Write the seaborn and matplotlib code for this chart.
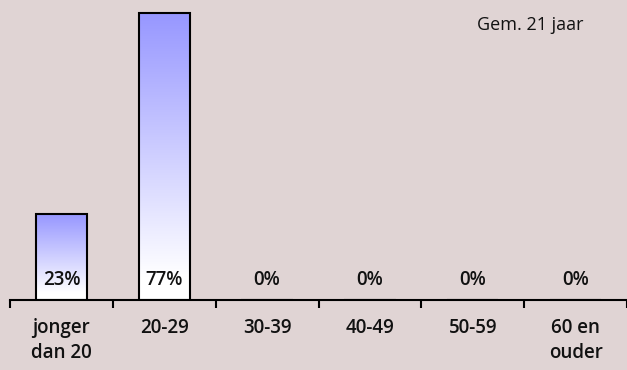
import numpy as np
import pandas as pd
import matplotlib
matplotlib.use("Agg")
import matplotlib.pyplot as plt
import seaborn as sns
from matplotlib.colors import LinearSegmentedColormap

categories = ["jonger\ndan 20", "20-29", "30-39", "40-49", "50-59", "60 en\nouder"]
values = [23, 77, 0, 0, 0, 0]
labels = ["23%", "77%", "0%", "0%", "0%", "0%"]
note = "Gem. 21 jaar"

bg = "#e0d4d4"
sns.set_style("white")
plt.rcParams["font.family"] = ["Open Sans", "DejaVu Sans"]

df = pd.DataFrame({"cat": categories, "val": values})

fig = plt.figure(figsize=(6.27, 3.70), dpi=100, facecolor=bg)
ax = fig.add_axes([10 / 627, 70 / 370, 617 / 627, 300 / 370])
ax.set_facecolor(bg)

sns.barplot(data=df, x="cat", y="val", ax=ax, width=0.5, color="white",
            edgecolor="black", linewidth=1.5, saturation=1)
ax.set_xlim(-0.5, 5.5)
ax.set_ylim(0, 80.5)

# gradient fill inside bars
cmap = LinearSegmentedColormap.from_list(
    "g", [(0, "white"), (0.08, "white"), (1, "#9797ff")])
grad = np.linspace(0, 1, 256).reshape(-1, 1)
for p in ax.patches:
    h = p.get_height()
    if h <= 0:
        continue
    x0 = p.get_x()
    w = p.get_width()
    im = ax.imshow(grad, cmap=cmap, aspect="auto", origin="lower",
                   extent=[x0, x0 + w, 0, h], zorder=p.get_zorder() + 0.1)
    im.set_clip_path(p)
    p.set_facecolor("none")
    p.set_zorder(p.get_zorder() + 0.2)

for i, lab in enumerate(labels):
    ax.text(i, 5.3, lab, ha="center", va="center", fontsize=13.5,
            fontweight="semibold", color="#111111", zorder=5)

ax.text(0.843, 0.917, note, transform=ax.transAxes, ha="center", va="center",
        fontsize=13, color="#111111")

for s in ["top", "right", "left"]:
    ax.spines[s].set_visible(False)
ax.spines["bottom"].set_linewidth(1.5)
ax.spines["bottom"].set_color("black")
ax.set_yticks([])
ax.set_xlabel("")
ax.set_ylabel("")
ax.set_xticks(range(len(categories)))
ax.set_xticklabels(categories, fontsize=13.5, fontweight="semibold", color="#111111",
                   linespacing=1.3, va="top")
ax.tick_params(axis="x", which="major", bottom=True, length=0, pad=13)
ax.set_xticks(np.arange(-0.5, 6.0, 1.0), minor=True)
ax.tick_params(axis="x", which="minor", bottom=True, length=6, width=1.5,
               color="black", direction="out")

fig.savefig("out.png", dpi=100, facecolor=bg)
